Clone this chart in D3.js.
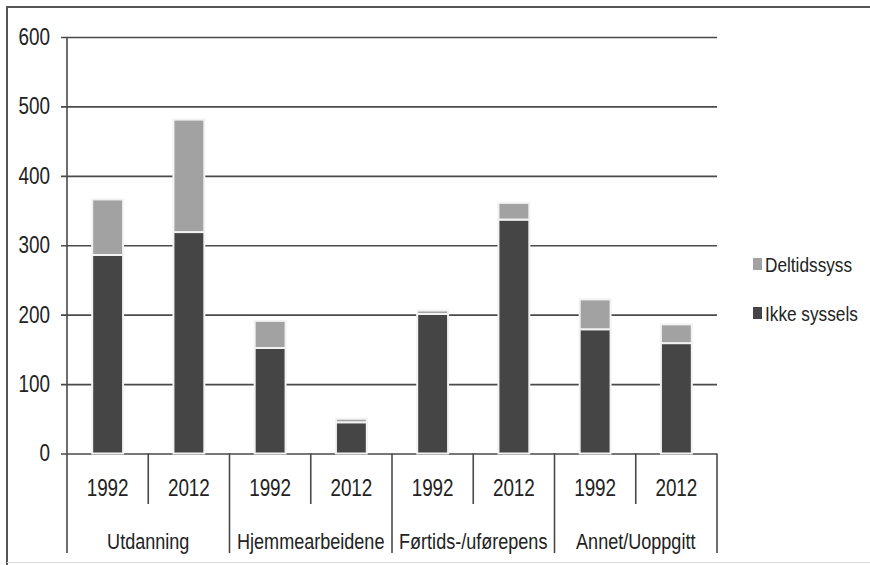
<!DOCTYPE html>
<html>
<head>
<meta charset="utf-8">
<script src="https://cdn.jsdelivr.net/npm/d3@7"></script>
<style>
  body { margin: 0; background: #fff; }
  text { font-family: "Liberation Sans", Arial, sans-serif; fill: #222; }
</style>
</head>
<body>
<script>
// categories
let groups = ["Utdanning", "Hjemmearbeidene", "Førtids-/uførepens", "Annet/Uoppgitt"];
let years = ["1992", "2012"];
// series, one value per group/year in order
let ikkeSyssels = [286, 319, 152, 45, 201, 337, 179, 159];
let deltidssyss = [80, 162, 39, 5, 5, 24, 43, 27];
let yTicks = [0, 100, 200, 300, 400, 500, 600];
let seriesNames = ["Ikke syssels", "Deltidssyss"];
let colors = ["#454545", "#a2a2a2"];

let width = 870, height = 565;
let margin = {left: 67, right: 153, top: 37, bottom: 112};
let squeeze = 0.82; // narrow look of the original labels

// rows built from the arrays above
let rows = [];
groups.forEach((g, gi) => years.forEach((yr, yi) => {
  let i = gi * years.length + yi;
  rows.push({key: g + "|" + yr, group: g, year: yr, "Ikke syssels": ikkeSyssels[i], "Deltidssyss": deltidssyss[i]});
}));

function narrow(sel) {
  sel.each(function() {
    let w = this.getComputedTextLength();
    d3.select(this).attr("textLength", w * squeeze).attr("lengthAdjust", "spacingAndGlyphs");
  });
}

let svg = d3.select("body").append("svg").attr("width", width).attr("height", height);

// outer frame
svg.append("rect").attr("x", 7).attr("y", 7).attr("width", width).attr("height", height)
   .attr("fill", "#fff").attr("stroke", "#555").attr("stroke-width", 2);
svg.append("line").attr("x1", 7).attr("x2", width).attr("y1", 562.5).attr("y2", 562.5)
   .attr("stroke", "#ddd").attr("stroke-width", 1);

let x = d3.scaleBand()
  .domain(rows.map(d => d.key))
  .range([margin.left, width - margin.right])
  .paddingInner(0.62).paddingOuter(0.31);

let y = d3.scaleLinear().domain([0, 600]).range([height - margin.bottom + 0.5, margin.top]);

let chartGroup = svg.append("g");

// y axis with gridlines
let yAxis = chartGroup.append("g")
  .attr("transform", "translate(" + margin.left + ",0)")
  .call(d3.axisLeft(y).tickValues(yTicks).tickSizeInner(-(width - margin.right - margin.left)).tickSizeOuter(0).tickPadding(17));
yAxis.select(".domain").remove();
yAxis.selectAll(".tick line").attr("x1", -6).attr("stroke", "#4a4a4a").attr("stroke-width", 1.6);
yAxis.selectAll(".tick text").attr("font-size", 23).attr("fill", "#222")
  .style("font-family", "'Liberation Sans', Arial, sans-serif")
  .call(narrow);

// vertical axis line
chartGroup.append("line")
  .attr("x1", margin.left).attr("x2", margin.left)
  .attr("y1", y(600)).attr("y2", y(0))
  .attr("stroke", "#4a4a4a").attr("stroke-width", 1.6);

// stacked bars
let stack = d3.stack().keys(seriesNames)(rows);
let layers = chartGroup.selectAll("g.layer")
  .data(stack)
  .enter().append("g")
    .attr("class", "layer")
    .attr("fill", (d, i) => colors[i]);

layers.selectAll("rect")
  .data(d => d)
  .enter().append("rect")
    .attr("x", d => x(d.data.key))
    .attr("y", d => y(d[1]))
    .attr("width", x.bandwidth())
    .attr("height", d => y(d[0]) - y(d[1]))
    .attr("stroke", "#f2f2f2")
    .attr("stroke-width", 2);

// category axis: separators and labels
let step = x.step();
let x0 = margin.left;
let yBase = y(0);
let sep = chartGroup.append("g").attr("stroke", "#4a4a4a").attr("stroke-width", 1.6);
d3.range(rows.length + 1).forEach(i => {
  let long = i % years.length === 0;
  sep.append("line")
    .attr("x1", x0 + i * step).attr("x2", x0 + i * step)
    .attr("y1", yBase).attr("y2", long ? 553 : 504);
});

chartGroup.selectAll("text.year")
  .data(rows)
  .enter().append("text")
    .attr("class", "year")
    .attr("x", d => x(d.key) + x.bandwidth() / 2)
    .attr("y", 496)
    .attr("text-anchor", "middle")
    .attr("font-size", 23)
    .text(d => d.year)
    .call(narrow);

chartGroup.selectAll("text.group")
  .data(groups)
  .enter().append("text")
    .attr("class", "group")
    .attr("x", (d, i) => x0 + (i * years.length + years.length / 2) * step)
    .attr("y", 549)
    .attr("text-anchor", "middle")
    .attr("font-size", 22)
    .text(d => d)
    .call(narrow);

// legend
let legend = svg.append("g");
let legendItems = [{name: "Deltidssyss", color: colors[1]}, {name: "Ikke syssels", color: colors[0]}];
let item = legend.selectAll("g")
  .data(legendItems)
  .enter().append("g")
    .attr("transform", (d, i) => "translate(753," + (258 + i * 49) + ")");
item.append("rect").attr("width", 9).attr("height", 12).attr("fill", d => d.color);
item.append("text").attr("x", 12).attr("y", 14).attr("font-size", 21).text(d => d.name).call(narrow);
</script>
</body>
</html>
